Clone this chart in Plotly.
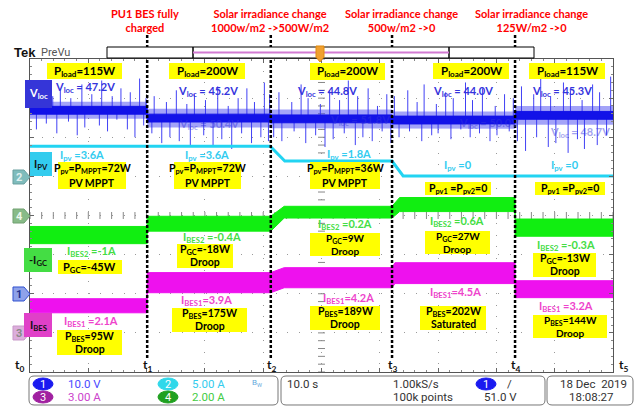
import numpy as np
import plotly.graph_objects as go

W, H = 638, 408

# ---------------- data ----------------
# event instants t1..t4 (s), 10 s/div, 100 s record
t_events = [20.1, 41.3, 62.1, 83.2]

# channel scale (unit/div) and ground offset (div from bottom)
ch_scale = {"vloc": 10.0, "ipv": 5.0, "igc": 2.0, "ibes": 3.0}
ch_offset = {"vloc": 2.0, "ipv": 5.0, "igc": 4.0, "ibes": 1.0}

# V_loc (V): mean level and noise half-width
vloc_t = [0, 20.1, 20.1, 41.3, 41.3, 62.1, 62.1, 83.2, 83.2, 100]
vloc_v = [46.9, 46.9, 44.9, 44.9, 44.7, 44.7, 44.4, 44.4, 45.6, 45.6]
vloc_half = [1.0, 1.0, 1.0, 1.0, 1.0, 1.0, 1.0, 1.0, 1.0, 1.0]
vloc_fuzz = [2.2, 2.2, 2.4, 2.4, 2.4, 2.4, 2.2, 2.2, 2.4, 2.4]

# V_loc spikes (time s, peak V)
spike_t = [0.5, 1.1, 2.3, 2.8, 3.9, 4.6, 5.2, 6.6, 7.0, 8.1, 8.9, 9.4, 10.6, 11.9, 12.3,
           13.3, 14.1, 14.9, 15.6, 16.7, 17.2, 18.0, 18.8, 19.5, 19.9,
           20.9, 21.3, 22.6, 23.4, 24.0, 25.1, 25.6, 26.9, 27.5, 28.2, 29.8, 30.1, 31.4,
           32.2, 32.9, 34.0, 34.6, 35.7, 36.3, 37.2, 38.0, 38.5, 39.6, 40.2, 40.9, 41.1,
           41.8, 42.7, 43.2, 44.9, 45.3, 46.5, 47.3, 47.7, 49.0, 49.8, 50.6, 51.4, 52.0,
           53.1, 53.9, 54.6, 55.8, 56.2, 57.1, 58.0, 58.7, 59.6, 60.4, 61.2, 61.9,
           62.5, 63.3, 64.8, 65.1, 66.4, 67.2, 67.6, 68.9, 69.7, 70.0, 71.3, 72.2, 72.6,
           73.9, 74.7, 75.5, 75.9, 77.1, 77.6, 78.9, 79.8, 80.1, 81.4, 82.2, 82.9,
           83.6, 84.3, 85.0, 86.4, 86.9, 87.6, 88.9, 89.3, 90.2, 91.5, 92.3, 92.7, 93.9,
           94.7, 95.1, 96.5, 97.3, 97.7, 98.9, 99.6]
spike_v = [51.5, 42.0, 53.0, 43.5, 50.5, 41.0, 52.0, 44.0, 50.0, 40.5, 53.5, 42.5, 51.0,
           43.0, 54.5, 41.5, 50.5, 44.5, 52.5, 42.0, 51.5, 40.0, 55.0, 43.0, 50.0,
           41.0, 50.5, 38.5, 49.0, 40.0, 52.0, 39.0, 48.5, 37.5, 51.0, 40.5, 49.5, 38.0,
           53.0, 39.5, 48.0, 37.0, 50.0, 41.0, 52.5, 38.5, 49.0, 40.0, 54.0, 39.0, 51.0,
           40.0, 51.5, 39.0, 49.0, 41.5, 53.5, 38.5, 50.0, 40.5, 48.5, 37.5, 52.0, 39.5,
           49.5, 41.0, 54.5, 38.0, 50.5, 40.0, 52.5, 39.0, 48.0, 41.5, 51.0, 38.5,
           50.5, 40.0, 52.0, 41.5, 49.0, 39.0, 53.5, 40.5, 48.5, 41.0, 51.5, 39.5, 50.0,
           42.0, 54.0, 40.0, 49.5, 41.0, 52.5, 39.0, 48.0, 40.5, 51.0, 41.5, 50.0,
           39.0, 53.0, 36.5, 51.0, 40.0, 55.0, 37.5, 50.5, 38.5, 54.0, 36.0, 52.0, 39.5,
           49.5, 37.0, 53.5, 38.0, 51.5, 40.5, 55.5]

# I_pv (A)
ipv_t = [0, 41.2, 43.7, 62.1, 64.0, 100]
ipv_v = [3.85, 3.85, 1.95, 1.95, 0.05, 0.05]

# -I_GC = I_BES2 (A)
igc_t = [0, 20.1, 20.1, 41.3, 43.6, 62.1, 63.4, 83.2, 83.2, 100]
igc_v = [-1.0, -1.0, -0.42, -0.42, 0.17, 0.17, 0.56, 0.56, -0.62, -0.62]
igc_half = [0.44, 0.44, 0.38, 0.38, 0.30, 0.30, 0.36, 0.36, 0.44, 0.44]

# I_BES (A)
ibes_t = [0, 20.1, 20.1, 41.3, 43.6, 62.1, 62.6, 83.2, 83.2, 100]
ibes_v = [2.08, 2.08, 3.85, 3.85, 4.23, 4.23, 4.58, 4.58, 3.35, 3.35]
ibes_half = [0.54, 0.54, 0.77, 0.77, 0.77, 0.77, 0.80, 0.80, 0.65, 0.65]

# ---------------- helpers ----------------
def px(x):
    return x / W

def py(y):
    return 1 - y / H

def to_div(ch, vals):
    return ch_offset[ch] + np.asarray(vals, dtype=float) / ch_scale[ch]

FONT = "Lato, 'Open Sans', sans-serif"
SCOPE_FONT = "'Liberation Sans Narrow', Roboto, sans-serif"

def A(text, x, y, xanchor="center", yanchor="middle", **kw):
    d = dict(text=text, x=px(x), y=py(y), xref="paper", yref="paper", showarrow=False,
             xanchor=xanchor, yanchor=yanchor)
    d.update(kw)
    return d

def R(x0, y0, x1, y1, fill, line=None):
    return dict(type="rect", xref="paper", yref="paper", x0=px(x0), x1=px(x1),
                y0=py(y1), y1=py(y0), fillcolor=fill,
                line=dict(width=0) if line is None else line)

fig = go.Figure()

def band(t, mid, half, ch, color, lw=1):
    mid = np.asarray(mid, dtype=float)
    half = np.asarray(half, dtype=float)
    up = to_div(ch, mid + half)
    lo = to_div(ch, mid - half)
    x = list(t) + list(t)[::-1]
    y = list(up) + list(lo)[::-1]
    fig.add_trace(go.Scatter(x=x, y=y, fill="toself", fillcolor=color, mode="lines",
                             line=dict(color=color, width=lw), hoverinfo="skip",
                             showlegend=False))

# center cross tick marks
fig.add_trace(go.Scatter(x=np.arange(0, 100.01, 2), y=[4] * 51, mode="markers",
                         marker=dict(symbol="line-ns", size=5, line=dict(color="#888", width=1)),
                         hoverinfo="skip", showlegend=False))
fig.add_trace(go.Scatter(x=[50] * 41, y=np.arange(0, 8.001, 0.2), mode="markers",
                         marker=dict(symbol="line-ew", size=5, line=dict(color="#888", width=1)),
                         hoverinfo="skip", showlegend=False))

band(ibes_t, ibes_v, ibes_half, "ibes", "#ee11ee")
band(igc_t, igc_v, igc_half, "igc", "#11ee11")

# V_loc spikes
base = np.interp(spike_t, [0, 20.09, 20.11, 41.29, 41.31, 62.09, 62.11, 83.19, 83.21, 100],
                 vloc_v)
sx, sy = [], []
for t, b, v in zip(spike_t, base, spike_v):
    sx += [t, t, None]
    sy += [float(to_div("vloc", b)), float(to_div("vloc", v)), None]
fig.add_trace(go.Scatter(x=sx, y=sy, mode="lines", line=dict(color="#4040f5", width=1),
                         hoverinfo="skip", showlegend=False, connectgaps=False))
band(vloc_t, vloc_v, vloc_fuzz, "vloc", "rgba(50,50,240,0.45)", lw=0)
band(vloc_t, vloc_v, vloc_half, "vloc", "#1212e8")

# I_pv (cyan) line
fig.add_trace(go.Scatter(x=ipv_t, y=to_div("ipv", ipv_v), mode="lines",
                         line=dict(color="#22d4f2", width=3), hoverinfo="skip",
                         showlegend=False))

shapes = []
ann = []

# event dotted lines
for t in t_events:
    shapes.append(dict(type="line", xref="x", yref="paper", x0=t, x1=t,
                       y0=py(358), y1=py(35), line=dict(color="black", width=2.5, dash="3px,2px")))

# record bar on top
shapes.append(R(107, 47, 534, 58, "white", dict(color="black", width=1)))
for xv in (193, 449):
    shapes.append(dict(type="line", xref="paper", yref="paper", x0=px(xv), x1=px(xv),
                       y0=py(58), y1=py(47), line=dict(color="black", width=1.5)))
shapes.append(dict(type="line", xref="paper", yref="paper", x0=px(193), x1=px(449),
                   y0=py(52.5), y1=py(52.5), line=dict(color="#d27ad2", width=2)))
# trigger marker
shapes.append(dict(type="path", xref="paper", yref="paper",
                   path="M %f,%f L %f,%f L %f,%f L %f,%f L %f,%f Z" % (
                       px(316), py(46), px(324), py(46), px(324), py(57), px(320), py(62),
                       px(316), py(57)),
                   fillcolor="#f0a030", line=dict(color="#e08a10", width=1)))

# channel tags on left
for lab, yv, fill, lc, tc in [("1", 294, "#8ea2ea", "#3050d0", "#203090"),
                              ("2", 177, "#7fbcbc", "#6aa0a0", "#e0f0f0"),
                              ("4", 216, "#88bb88", "#70a070", "#eef8ee"),
                              ("3", 333, "#dcaedc", "#c898c8", "#888888")]:
    shapes.append(dict(type="path", xref="paper", yref="paper",
                       path="M %f,%f L %f,%f L %f,%f L %f,%f L %f,%f Z" % (
                           px(13), py(yv - 7), px(24), py(yv - 7), px(30), py(yv),
                           px(24), py(yv + 7), px(13), py(yv + 7)),
                       fillcolor=fill, line=dict(color=lc, width=1)))
    ann.append(A("<b>%s</b>" % lab, 19, yv, font=dict(size=11, color=tc, family=SCOPE_FONT)))

# status bar rounded boxes
def rrect(x0, y0, x1, y1, r=5):
    p = "M %f,%f " % (px(x0 + r), py(y0))
    p += "L %f,%f Q %f,%f %f,%f " % (px(x1 - r), py(y0), px(x1), py(y0), px(x1), py(y0 + r))
    p += "L %f,%f Q %f,%f %f,%f " % (px(x1), py(y1 - r), px(x1), py(y1), px(x1 - r), py(y1))
    p += "L %f,%f Q %f,%f %f,%f " % (px(x0 + r), py(y1), px(x0), py(y1), px(x0), py(y1 - r))
    p += "L %f,%f Q %f,%f %f,%f Z" % (px(x0), py(y0 + r), px(x0), py(y0), px(x0 + r), py(y0))
    return dict(type="path", xref="paper", yref="paper", path=p,
                line=dict(color="#777", width=1), fillcolor="white")

shapes += [rrect(29, 376, 278, 405), rrect(281, 376, 545, 405), rrect(547, 376, 633, 405)]

for cx, cy, col, lab in [(43, 384, "#1a1af0", "1"), (43, 397, "#a020a0", "3"),
                         (168, 384, "#30d8ea", "2"), (168, 397, "#20a020", "4"),
                         (486, 384, "#1a1af0", "1")]:
    shapes.append(dict(type="circle", xref="paper", yref="paper", x0=px(cx - 10),
                       x1=px(cx + 10), y0=py(cy + 6), y1=py(cy - 6), fillcolor=col,
                       line=dict(color=col, width=1)))
    ann.append(A(lab, cx, cy, font=dict(size=11, color="white", family=SCOPE_FONT)))

status = [("10.0 V", 66, 384, "#4a4aff"), ("3.00 A", 66, 397, "#cc44cc"),
          ("5.00 A", 190, 384, "#33ccee"), ("2.00 A", 190, 397, "#44cc44"),
          ("10.0 s", 285, 384, "#333"), ("1.00kS/s", 391, 384, "#333"),
          ("100k points", 391, 397, "#333"), ("/", 505, 384, "#333"),
          ("51.0 V", 482, 397, "#333"), ("18:08:27", 567, 397, "#333")]
for txt, xv, yv, col in status:
    ann.append(A(txt, xv, yv, xanchor="left", font=dict(size=11.5, color=col, family=SCOPE_FONT)))
ann.append(A("18 Dec  2019", 629, 384, xanchor="right",
             font=dict(size=11.5, color="#333", family=SCOPE_FONT)))
ann.append(A("B<sub>W</sub>", 250, 383, xanchor="left",
             font=dict(size=8, color="#66aadd", family=SCOPE_FONT)))

# Tek PreVu
ann.append(A("<b>Tek</b>", 12, 52, xanchor="left",
             font=dict(size=13, color="#111", family="'Liberation Sans', sans-serif")))
ann.append(A("PreVu", 39, 52, xanchor="left", font=dict(size=11, color="#555", family=SCOPE_FONT)))

# red event titles
for txt, xv in [("PU1 BES fully<br>charged", 145),
                ("Solar irradiance change<br>1000w/m2 ->500W/m2", 270),
                ("Solar irradiance change<br>500w/m2 ->0", 401),
                ("Solar irradiance change<br>125W/m2 ->0", 531)]:
    ann.append(A("<b>%s</b>" % txt, xv, 20.5, font=dict(size=11, color="#ff0000", family=FONT)))

# time labels
for i, xv in enumerate([20, 147, 271, 392, 515, 623]):
    ann.append(A("<b>t<sub>%d</sub></b>" % i, xv, 365, font=dict(size=12, color="#111", family=FONT)))

# yellow boxes
S = lambda a: "<sub>%s</sub>" % a
boxes = [
    ("P%s=115W" % S("load"), 47, 122, 63, 79, 11.5),
    ("P%s=200W" % S("load"), 169, 245, 63, 79, 11.5),
    ("P%s=200W" % S("load"), 310, 385, 63, 80, 11.5),
    ("P%s=200W" % S("load"), 433, 509, 63, 79, 11.5),
    ("P%s=115W" % S("load"), 529, 605, 63, 79, 11.5),
    ("P%s=P%s=72W<br>PV MPPT" % (S("pv"), S("MPPT")), 58, 126, 162, 189, 10.5),
    ("P%s=P%s=72W<br>PV MPPT" % (S("pv"), S("MPPT")), 174, 241, 162, 189, 10.5),
    ("P%s=P%s=36W<br>PV MPPT" % (S("pv"), S("MPPT")), 310, 380, 162, 189, 10.5),
    ("P%s =P%s=0" % (S("pv1"), S("pv2")), 425, 491, 182, 195, 10.5),
    ("P%s =P%s=0" % (S("pv1"), S("pv2")), 535, 605, 182, 195, 10.5),
    ("P%s=-45W" % S("GC"), 58, 122, 260, 274, 11),
    ("P%s=-18W<br>Droop" % S("GC"), 177, 233, 244, 268, 10.5),
    ("P%s=9W<br>Droop" % S("GC"), 310, 380, 233, 256, 10),
    ("P%s=27W<br>Droop" % S("GC"), 425, 490, 231, 254, 10),
    ("P%s=-13W<br>Droop" % S("GC"), 533, 596, 253, 277, 10.5),
    ("P%s=95W<br>Droop" % S("BES"), 57, 122, 330, 355, 10.5),
    ("P%s=175W<br>Droop" % S("BES"), 172, 247, 308, 332, 10.5),
    ("P%s=189W<br>Droop" % S("BES"), 310, 380, 306, 330, 10.5),
    ("P%s=202W<br>Saturated" % S("BES"), 420, 486, 306, 330, 10.5),
    ("P%s=144W<br>Droop" % S("BES"), 533, 607, 315, 338, 10),
]
for txt, x0, x1, y0, y1, fs in boxes:
    shapes.append(R(x0, y0, x1, y1, "#ffff00"))
    lines = txt.split("<br>")
    cx = (x0 + x1) / 2
    if len(lines) == 1:
        ann.append(A("<b>%s</b>" % lines[0], cx, (y0 + y1) / 2,
                     font=dict(size=fs, color="black", family=FONT)))
    else:
        h = y1 - y0
        for ln, fr in zip(lines, (0.26, 0.77)):
            ann.append(A("<b>%s</b>" % ln, cx, y0 + h * fr,
                         font=dict(size=fs, color="black", family=FONT)))

# coloured value labels
labels = [
    ("V%s = 47.2V" % S("loc"), 85, 87, "#3434dd"),
    ("V%s = 45.2V" % S("loc"), 208, 92, "#3434dd"),
    ("V%s = 44.8V" % S("loc"), 327, 92, "#3434dd"),
    ("V%s = 44.0V" % S("loc"), 463, 92, "#3434dd"),
    ("V%s = 45.3V" % S("loc"), 562, 92, "#3434dd"),
    ("I%s =3.6A" % S("pv"), 82, 155, "#33ccf0"),
    ("I%s =3.6A" % S("pv"), 207, 155, "#33ccf0"),
    ("I%s =1.8A" % S("pv"), 349, 154, "#33ccf0"),
    ("I%s =0" % S("pv"), 458, 165, "#33ccf0"),
    ("I%s =0" % S("pv"), 565, 165, "#33ccf0"),
    ("I%s =-1A" % S("BES2"), 91, 251, "#44dd44"),
    ("I%s =-0.4A" % S("BES2"), 212, 237, "#44dd44"),
    ("I%s =0.2A" % S("BES2"), 345, 224, "#44dd44"),
    ("I%s =0.6A" % S("BES2"), 457, 222, "#44dd44"),
    ("I%s =-0.3A" % S("BES2"), 566, 245, "#44dd44"),
    ("I%s =2.1A" % S("BES1"), 91, 321, "#ee44cc"),
    ("I%s=3.9A" % S("BES1"), 206, 300, "#ee44cc"),
    ("I%s=4.2A" % S("BES1"), 348, 298, "#ee44cc"),
    ("I%s=4.5A" % S("BES1"), 456, 292, "#ee44cc"),
    ("I%s =3.2A" % S("BES1"), 566, 306, "#ee44cc"),
]
for txt, xv, yv, col in labels:
    ann.append(A("<b>%s</b>" % txt, xv, yv, font=dict(size=11, color=col, family=FONT)))

# faint hidden scope labels
for txt, xv, yv in [("V%s = 50.4V" % S("loc"), 209, 124), ("V%s = 51.8V" % S("loc"), 360, 120),
                    ("V%s = 50.0V" % S("loc"), 489, 123), ("V%s = 48.7V" % S("loc"), 580, 133)]:
    ann.append(A("<b>%s</b>" % txt, xv, yv, opacity=0.45,
                 font=dict(size=11, color="#3434dd", family=FONT)))

# channel name boxes on left
for txt, x0, x1, y0, y1, bg, tc in [
        ("V%s" % S("loc"), 25, 52, 80, 108, "#3535d8", "white"),
        ("I%s" % S("PV"), 30, 52, 152, 176, "#33ccee", "#111"),
        ("-I%s" % S("GC"), 24, 52, 248, 272, "#44dd44", "#111"),
        ("I%s" % S("BES"), 24, 52, 313, 337, "#e040c8", "#111")]:
    shapes.append(R(x0, y0, x1, y1, bg))
    ann.append(A("<b>%s</b>" % txt, (x0 + x1) / 2, (y0 + y1) / 2,
                 font=dict(size=11, color=tc, family=FONT)))

axis_common = dict(showticklabels=False, showline=True, linecolor="#555", linewidth=1,
                   mirror="ticks", ticks="inside", ticklen=4, tickcolor="#666",
                   showgrid=True, gridcolor="#9a9a9a", griddash="1px,10.7px", gridwidth=1,
                   zeroline=False, fixedrange=True)
fig.update_layout(
    width=W, height=H, autosize=False,
    margin=dict(l=0, r=0, t=0, b=0, pad=0),
    paper_bgcolor="white", plot_bgcolor="white",
    showlegend=False,
    xaxis=dict(range=[0, 100], dtick=10, domain=[px(30), px(613)],
               minor=dict(ticks="inside", dtick=2, ticklen=2, tickcolor="#888", showgrid=False),
               **axis_common),
    yaxis=dict(range=[0, 8], dtick=1, domain=[py(372), py(59)],
               minor=dict(ticks="inside", dtick=0.2, ticklen=2, tickcolor="#888", showgrid=False),
               **axis_common),
    shapes=shapes,
    annotations=ann,
)

fig.write_html("out.html", config={"displayModeBar": False})
